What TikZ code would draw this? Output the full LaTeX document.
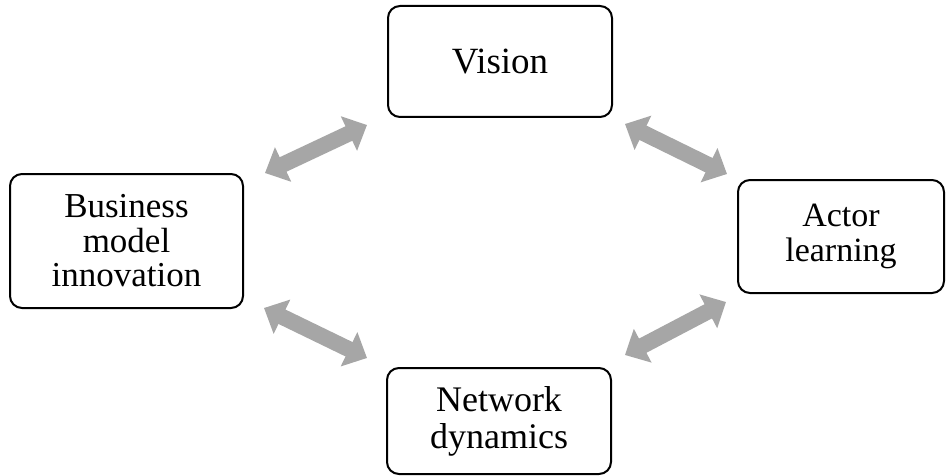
\documentclass[tikz,border=0pt]{standalone}
\usepackage{fontspec}
\setmainfont{Liberation Serif}
\usetikzlibrary{arrows.meta}
\definecolor{linkgray}{HTML}{A6A6A6}
\begin{document}
\begin{tikzpicture}[x=1pt,y=-1pt,
  box/.style={draw=black, line width=2pt, rounded corners=12pt, fill=white,
    align=center, inner sep=0pt,
    font=\fontsize{35}{34.5}\selectfont},
  link/.style={draw=linkgray, line width=16pt,
    {Triangle[width=37pt,length=20pt]}-{Triangle[width=37pt,length=20pt]}}]
  \useasboundingbox (0,0) rectangle (952,476);

  % the four stages
  \node[box, minimum width=224pt, minimum height=111pt,
    font=\fontsize{37}{38}\selectfont] (vision) at (500,61.5) {Vision};
  \node[box, minimum width=233pt, minimum height=134pt] (bmi) at (126.5,241) {Business\\model\\innovation};
  \node[box, minimum width=206pt, minimum height=113pt,
    font=\fontsize{34}{34.5}\selectfont] (actor) at (841,236.5) {Actor\\learning};
  \node[box, minimum width=224pt, minimum height=106pt,
    font=\fontsize{36}{37}\selectfont] (network) at (499,421) {Network\\dynamics};

  % ends of the two-way links
  \coordinate (l1a) at (265,173); \coordinate (l1b) at (367,125);
  \coordinate (l2a) at (625,124); \coordinate (l2b) at (727,174);
  \coordinate (l3a) at (264,308); \coordinate (l3b) at (367,358);
  \coordinate (l4a) at (625,355); \coordinate (l4b) at (726,302);

  \draw[link] (l1a) -- (l1b);
  \draw[link] (l2a) -- (l2b);
  \draw[link] (l3a) -- (l3b);
  \draw[link] (l4a) -- (l4b);
\end{tikzpicture}
\end{document}
